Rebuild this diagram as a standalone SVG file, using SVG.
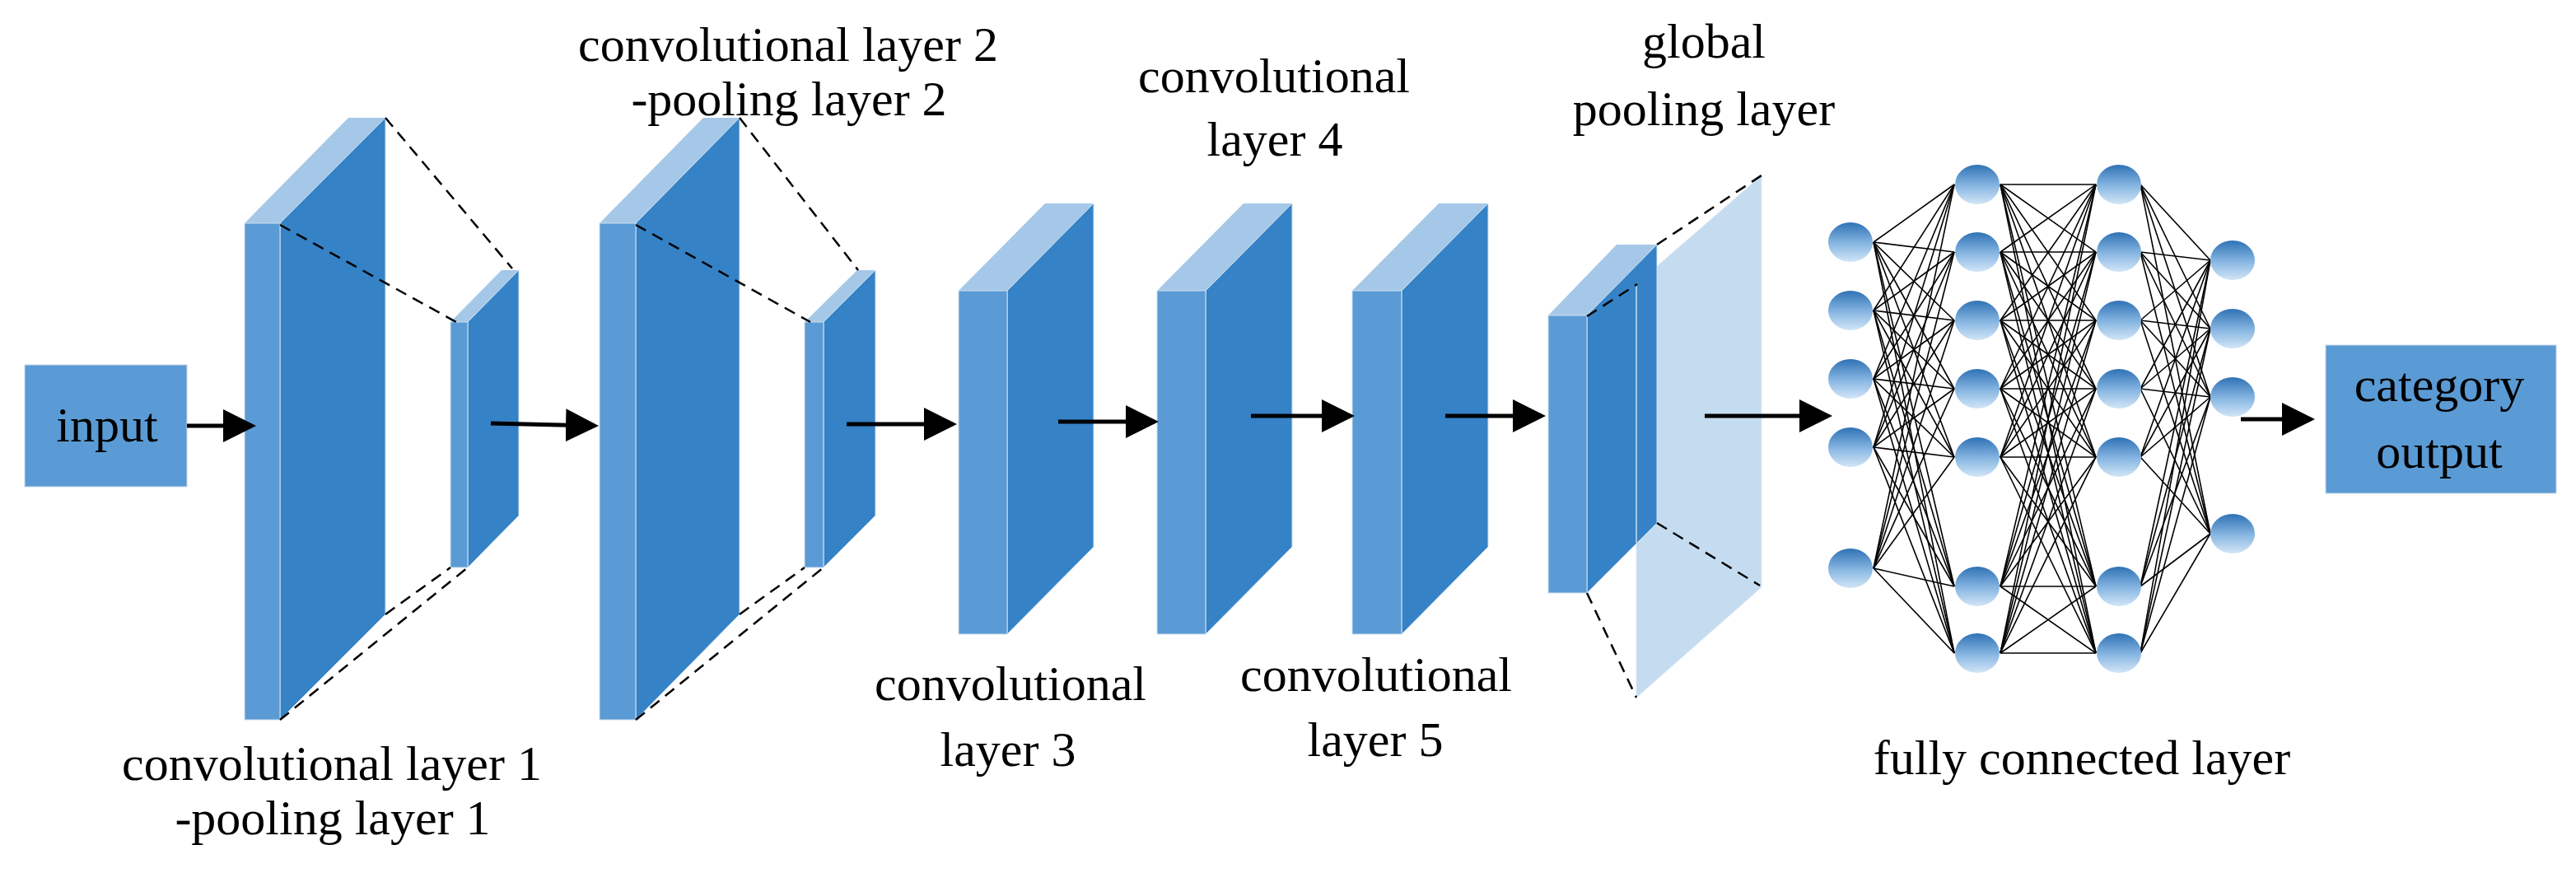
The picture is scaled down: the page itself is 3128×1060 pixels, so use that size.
<svg xmlns="http://www.w3.org/2000/svg" width="3128" height="1060" viewBox="0 0 3128 1060">
<style>
.front{fill:#5b9bd5;stroke:#d0dff0;stroke-width:1}
.side{fill:#3582c6;stroke:#d0dff0;stroke-width:1}
.top{fill:#a5c8e8}
.dash{stroke:#000;stroke-width:2.5;stroke-dasharray:14 9;fill:none}
.arr{stroke:#000;stroke-width:5;fill:none;marker-end:url(#ah)}
.fc line{stroke:#000;stroke-width:1.6}
.node{fill:url(#ng)}
text{font-family:"Liberation Serif","Times New Roman",serif;font-size:60px;fill:#000;text-anchor:middle}
</style>
<defs>
<marker id="ah" markerWidth="8" markerHeight="8" refX="7" refY="4" orient="auto" markerUnits="strokeWidth"><path d="M0,0 L8,4 L0,8 z" fill="#000"/></marker>
<linearGradient id="ng" x1="0" y1="0" x2="0" y2="1"><stop offset="0" stop-color="#2f72b5"/><stop offset="0.55" stop-color="#8ab8e3"/><stop offset="1" stop-color="#d2e5f6"/></linearGradient>
</defs>
<g id="input"><rect x="30" y="443" width="197" height="148" fill="#5b9bd5" stroke="#c8d8ea"/><text x="130" y="536">input</text></g>
<g id="conv1">
<polygon class="top" points="297,271 423,143 468,143 340,271"/>
<polygon class="side" points="340,271 468,143 468,746 340,874"/>
<rect class="front" x="297" y="271" width="43" height="603"/>
</g>
<g id="pool1">
<polygon class="top" points="547,391 609,328 630,328 568,391"/>
<polygon class="side" points="568,391 630,328 630,626 568,689"/>
<rect class="front" x="547" y="391" width="21" height="298"/>
</g>
<g id="conv2">
<polygon class="top" points="728,271 854,143 898,143 772,271"/>
<polygon class="side" points="772,271 898,143 898,746 772,874"/>
<rect class="front" x="728" y="271" width="44" height="603"/>
</g>
<g id="pool2">
<polygon class="top" points="977,391 1041,328 1063,328 1000,391"/>
<polygon class="side" points="1000,391 1063,328 1063,626 1000,689"/>
<rect class="front" x="977" y="391" width="23" height="298"/>
</g>
<g id="conv3">
<polygon class="top" points="1164,353 1269,247 1328,247 1223,353"/>
<polygon class="side" points="1223,353 1328,247 1328,664 1223,770"/>
<rect class="front" x="1164" y="353" width="59" height="417"/>
</g>
<g id="conv4">
<polygon class="top" points="1405,353 1510,247 1569,247 1464,353"/>
<polygon class="side" points="1464,353 1569,247 1569,664 1464,770"/>
<rect class="front" x="1405" y="353" width="59" height="417"/>
</g>
<g id="conv5">
<polygon class="top" points="1642,353 1747,247 1807,247 1702,353"/>
<polygon class="side" points="1702,353 1807,247 1807,664 1702,770"/>
<rect class="front" x="1642" y="353" width="60" height="417"/>
</g>
<g id="globalpool">
<polygon points="1987,345 2139,213 2139,713 1987,847" fill="#c5dcf0" stroke="#dce8f5"/>
<polygon class="top" points="1880,383 1963,297 2012,297 1927,383"/>
<polygon class="side" points="1927,383 2012,297 2012,635 1927,720"/>
<line x1="1987" y1="345" x2="1987" y2="659" stroke="#c8dcef" stroke-width="1.5"/>
<rect class="front" x="1880" y="383" width="47" height="337"/>
</g>
<g id="output"><rect x="2824" y="419" width="280" height="180" fill="#5b9bd5" stroke="#c8d8ea"/><text x="2962" y="487">category</text><text x="2962" y="568">output</text></g>
<g id="labels">
<text x="403" y="947">convolutional layer 1</text>
<text x="404" y="1013">-pooling layer 1</text>
<text x="957" y="74">convolutional layer 2</text>
<text x="958" y="140">-pooling layer 2</text>
<text x="1227" y="850">convolutional</text>
<text x="1224" y="930">layer 3</text>
<text x="1547" y="112">convolutional</text>
<text x="1548" y="189">layer 4</text>
<text x="1671" y="839">convolutional</text>
<text x="1670" y="918">layer 5</text>
<text x="2069" y="70">global</text>
<text x="2069" y="152">pooling layer</text>
<text x="2528" y="940">fully connected layer</text>
</g>
<g id="connectors">
<line class="dash" x1="468" y1="143" x2="622" y2="326"/>
<line class="dash" x1="340" y1="273" x2="554" y2="391"/>
<line class="dash" x1="468" y1="746" x2="547" y2="689"/>
<line class="dash" x1="340" y1="874" x2="568" y2="689"/>
<line class="dash" x1="898" y1="143" x2="1042" y2="328"/>
<line class="dash" x1="772" y1="273" x2="984" y2="391"/>
<line class="dash" x1="898" y1="746" x2="977" y2="689"/>
<line class="dash" x1="772" y1="874" x2="1000" y2="689"/>
<line class="dash" x1="1927" y1="384" x2="1988" y2="345"/>
<line class="dash" x1="2012" y1="297" x2="2139" y2="213"/>
<line class="dash" x1="2012" y1="635" x2="2137" y2="711"/>
<line class="dash" x1="1927" y1="720" x2="1987" y2="847"/>
<line class="arr" x1="227" y1="517" x2="306" y2="517"/>
<line class="arr" x1="596" y1="514" x2="722" y2="517"/>
<line class="arr" x1="1028" y1="515" x2="1157" y2="515"/>
<line class="arr" x1="1285" y1="512" x2="1402" y2="512"/>
<line class="arr" x1="1519" y1="505" x2="1640" y2="505"/>
<line class="arr" x1="1755" y1="505" x2="1872" y2="505"/>
<line class="arr" x1="2070" y1="505" x2="2220" y2="505"/>
<line class="arr" x1="2721" y1="509" x2="2806" y2="509"/>
</g>
<g class="fc" id="fc-lines">
<!-- col1 (x 2275) to col2 (x 2373) -->
<line x1="2275" y1="294" x2="2373" y2="224"/><line x1="2275" y1="294" x2="2373" y2="306"/><line x1="2275" y1="294" x2="2373" y2="389"/><line x1="2275" y1="294" x2="2373" y2="472"/><line x1="2275" y1="294" x2="2373" y2="555"/><line x1="2275" y1="294" x2="2373" y2="712"/><line x1="2275" y1="294" x2="2373" y2="793"/>
<line x1="2275" y1="377" x2="2373" y2="224"/><line x1="2275" y1="377" x2="2373" y2="306"/><line x1="2275" y1="377" x2="2373" y2="389"/><line x1="2275" y1="377" x2="2373" y2="472"/><line x1="2275" y1="377" x2="2373" y2="555"/><line x1="2275" y1="377" x2="2373" y2="712"/><line x1="2275" y1="377" x2="2373" y2="793"/>
<line x1="2275" y1="460" x2="2373" y2="224"/><line x1="2275" y1="460" x2="2373" y2="306"/><line x1="2275" y1="460" x2="2373" y2="389"/><line x1="2275" y1="460" x2="2373" y2="472"/><line x1="2275" y1="460" x2="2373" y2="555"/><line x1="2275" y1="460" x2="2373" y2="712"/><line x1="2275" y1="460" x2="2373" y2="793"/>
<line x1="2275" y1="543" x2="2373" y2="224"/><line x1="2275" y1="543" x2="2373" y2="306"/><line x1="2275" y1="543" x2="2373" y2="389"/><line x1="2275" y1="543" x2="2373" y2="472"/><line x1="2275" y1="543" x2="2373" y2="555"/><line x1="2275" y1="543" x2="2373" y2="712"/><line x1="2275" y1="543" x2="2373" y2="793"/>
<line x1="2275" y1="690" x2="2373" y2="224"/><line x1="2275" y1="690" x2="2373" y2="306"/><line x1="2275" y1="690" x2="2373" y2="389"/><line x1="2275" y1="690" x2="2373" y2="472"/><line x1="2275" y1="690" x2="2373" y2="555"/><line x1="2275" y1="690" x2="2373" y2="712"/><line x1="2275" y1="690" x2="2373" y2="793"/>
<!-- col2 (x 2429) to col3 (x 2545) -->
<line x1="2429" y1="224" x2="2545" y2="224"/><line x1="2429" y1="224" x2="2545" y2="306"/><line x1="2429" y1="224" x2="2545" y2="389"/><line x1="2429" y1="224" x2="2545" y2="472"/><line x1="2429" y1="224" x2="2545" y2="555"/><line x1="2429" y1="224" x2="2545" y2="712"/><line x1="2429" y1="224" x2="2545" y2="793"/>
<line x1="2429" y1="306" x2="2545" y2="224"/><line x1="2429" y1="306" x2="2545" y2="306"/><line x1="2429" y1="306" x2="2545" y2="389"/><line x1="2429" y1="306" x2="2545" y2="472"/><line x1="2429" y1="306" x2="2545" y2="555"/><line x1="2429" y1="306" x2="2545" y2="712"/><line x1="2429" y1="306" x2="2545" y2="793"/>
<line x1="2429" y1="389" x2="2545" y2="224"/><line x1="2429" y1="389" x2="2545" y2="306"/><line x1="2429" y1="389" x2="2545" y2="389"/><line x1="2429" y1="389" x2="2545" y2="472"/><line x1="2429" y1="389" x2="2545" y2="555"/><line x1="2429" y1="389" x2="2545" y2="712"/><line x1="2429" y1="389" x2="2545" y2="793"/>
<line x1="2429" y1="472" x2="2545" y2="224"/><line x1="2429" y1="472" x2="2545" y2="306"/><line x1="2429" y1="472" x2="2545" y2="389"/><line x1="2429" y1="472" x2="2545" y2="472"/><line x1="2429" y1="472" x2="2545" y2="555"/><line x1="2429" y1="472" x2="2545" y2="712"/><line x1="2429" y1="472" x2="2545" y2="793"/>
<line x1="2429" y1="555" x2="2545" y2="224"/><line x1="2429" y1="555" x2="2545" y2="306"/><line x1="2429" y1="555" x2="2545" y2="389"/><line x1="2429" y1="555" x2="2545" y2="472"/><line x1="2429" y1="555" x2="2545" y2="555"/><line x1="2429" y1="555" x2="2545" y2="712"/><line x1="2429" y1="555" x2="2545" y2="793"/>
<line x1="2429" y1="712" x2="2545" y2="224"/><line x1="2429" y1="712" x2="2545" y2="306"/><line x1="2429" y1="712" x2="2545" y2="389"/><line x1="2429" y1="712" x2="2545" y2="472"/><line x1="2429" y1="712" x2="2545" y2="555"/><line x1="2429" y1="712" x2="2545" y2="712"/><line x1="2429" y1="712" x2="2545" y2="793"/>
<line x1="2429" y1="793" x2="2545" y2="224"/><line x1="2429" y1="793" x2="2545" y2="306"/><line x1="2429" y1="793" x2="2545" y2="389"/><line x1="2429" y1="793" x2="2545" y2="472"/><line x1="2429" y1="793" x2="2545" y2="555"/><line x1="2429" y1="793" x2="2545" y2="712"/><line x1="2429" y1="793" x2="2545" y2="793"/>
<!-- col3 (x 2599) to output (x 2684) -->
<line x1="2599" y1="224" x2="2684" y2="316"/><line x1="2599" y1="224" x2="2684" y2="399"/><line x1="2599" y1="224" x2="2684" y2="482"/><line x1="2599" y1="224" x2="2684" y2="648"/>
<line x1="2599" y1="306" x2="2684" y2="316"/><line x1="2599" y1="306" x2="2684" y2="399"/><line x1="2599" y1="306" x2="2684" y2="482"/><line x1="2599" y1="306" x2="2684" y2="648"/>
<line x1="2599" y1="389" x2="2684" y2="316"/><line x1="2599" y1="389" x2="2684" y2="399"/><line x1="2599" y1="389" x2="2684" y2="482"/><line x1="2599" y1="389" x2="2684" y2="648"/>
<line x1="2599" y1="472" x2="2684" y2="316"/><line x1="2599" y1="472" x2="2684" y2="399"/><line x1="2599" y1="472" x2="2684" y2="482"/><line x1="2599" y1="472" x2="2684" y2="648"/>
<line x1="2599" y1="555" x2="2684" y2="316"/><line x1="2599" y1="555" x2="2684" y2="399"/><line x1="2599" y1="555" x2="2684" y2="482"/><line x1="2599" y1="555" x2="2684" y2="648"/>
<line x1="2599" y1="712" x2="2684" y2="316"/><line x1="2599" y1="712" x2="2684" y2="399"/><line x1="2599" y1="712" x2="2684" y2="482"/><line x1="2599" y1="712" x2="2684" y2="648"/>
<line x1="2599" y1="793" x2="2684" y2="316"/><line x1="2599" y1="793" x2="2684" y2="399"/><line x1="2599" y1="793" x2="2684" y2="482"/><line x1="2599" y1="793" x2="2684" y2="648"/>
</g>
<g id="fc-nodes">
<ellipse class="node" cx="2247" cy="294" rx="27" ry="24"/><ellipse class="node" cx="2247" cy="377" rx="27" ry="24"/><ellipse class="node" cx="2247" cy="460" rx="27" ry="24"/><ellipse class="node" cx="2247" cy="543" rx="27" ry="24"/><ellipse class="node" cx="2247" cy="690" rx="27" ry="24"/>
<ellipse class="node" cx="2401" cy="224" rx="27" ry="24"/><ellipse class="node" cx="2401" cy="306" rx="27" ry="24"/><ellipse class="node" cx="2401" cy="389" rx="27" ry="24"/><ellipse class="node" cx="2401" cy="472" rx="27" ry="24"/><ellipse class="node" cx="2401" cy="555" rx="27" ry="24"/><ellipse class="node" cx="2401" cy="712" rx="27" ry="24"/><ellipse class="node" cx="2401" cy="793" rx="27" ry="24"/>
<ellipse class="node" cx="2573" cy="224" rx="27" ry="24"/><ellipse class="node" cx="2573" cy="306" rx="27" ry="24"/><ellipse class="node" cx="2573" cy="389" rx="27" ry="24"/><ellipse class="node" cx="2573" cy="472" rx="27" ry="24"/><ellipse class="node" cx="2573" cy="555" rx="27" ry="24"/><ellipse class="node" cx="2573" cy="712" rx="27" ry="24"/><ellipse class="node" cx="2573" cy="793" rx="27" ry="24"/>
<ellipse class="node" cx="2711" cy="316" rx="27" ry="24"/><ellipse class="node" cx="2711" cy="399" rx="27" ry="24"/><ellipse class="node" cx="2711" cy="482" rx="27" ry="24"/><ellipse class="node" cx="2711" cy="648" rx="27" ry="24"/>
</g>
</svg>
